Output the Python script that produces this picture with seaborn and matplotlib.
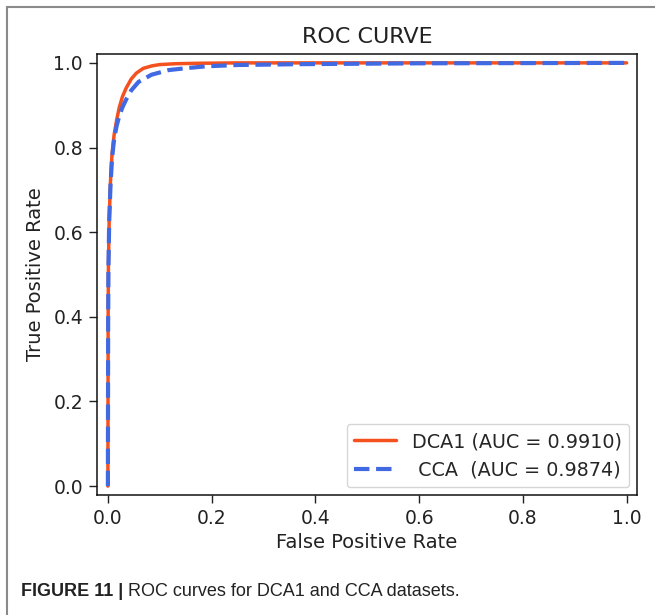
import matplotlib
matplotlib.use("Agg")
import matplotlib.pyplot as plt
from matplotlib.patches import Rectangle
import seaborn as sns
import numpy as np
import pandas as pd

# ROC points
FPR_DCA1 = [0.0, 0.0005, 0.001, 0.0025, 0.005, 0.008, 0.012, 0.017, 0.022, 0.028, 0.035,
            0.045, 0.055, 0.068, 0.085, 0.10, 0.13, 0.17, 0.25, 0.40, 1.0]
TPR_DCA1 = [0.0, 0.40, 0.52, 0.63, 0.72, 0.785, 0.83, 0.866, 0.895, 0.92, 0.94,
            0.962, 0.976, 0.987, 0.993, 0.996, 0.998, 0.999, 1.0, 1.0, 1.0]

FPR_CCA = [0.0, 0.0005, 0.001, 0.0025, 0.005, 0.008, 0.012, 0.017, 0.022, 0.028, 0.035,
           0.045, 0.059, 0.084, 0.117, 0.155, 0.19, 0.25, 0.37, 0.60, 1.0]
TPR_CCA = [0.0, 0.39, 0.51, 0.625, 0.71, 0.775, 0.82, 0.852, 0.875, 0.895, 0.913,
           0.935, 0.955, 0.972, 0.983, 0.988, 0.992, 0.995, 0.997, 0.999, 1.0]

LABELS = ["DCA1 (AUC = 0.9910)", " CCA  (AUC = 0.9874)"]
COLORS = ["#F4511E", "#4169E1"]

data = pd.concat(
    [
        pd.DataFrame({"fpr": FPR_DCA1, "tpr": TPR_DCA1, "model": LABELS[0]}),
        pd.DataFrame({"fpr": FPR_CCA, "tpr": TPR_CCA, "model": LABELS[1]}),
    ],
    ignore_index=True,
)

sns.set_style("ticks")
plt.rcParams["font.family"] = ["DejaVu Sans"]

fig = plt.figure(figsize=(6.55, 6.15), dpi=100)
ax = fig.add_axes([97 / 655, 1 - 495 / 615, 540 / 655, 441 / 615])

for (label, color), ls, lw in zip(zip(LABELS, COLORS), ["-", "--"], [2.5, 3.0]):
    sub = data[data["model"] == label]
    sns.lineplot(
        x="fpr", y="tpr", data=sub, ax=ax, color=color, linestyle=ls,
        linewidth=lw, label=label, estimator=None, sort=False,
    )

ax.set_xlim(-0.021, 1.02)
ax.set_ylim(-0.021, 1.021)
ax.set_xticks(np.arange(0, 1.01, 0.2))
ax.set_yticks(np.arange(0, 1.01, 0.2))
ax.tick_params(labelsize=13.5, length=6, width=1, pad=4, colors="#222222")
for s in ax.spines.values():
    s.set_linewidth(1.1)
    s.set_color("#111111")
ax.set_xlabel("False Positive Rate", fontsize=14, color="#222222", labelpad=4)
ax.set_ylabel("True Positive Rate", fontsize=14, color="#222222", labelpad=6)
ax.set_title("ROC CURVE", fontsize=16, color="#222222", pad=8)
ax.legend(loc="lower right", fontsize=13.8, frameon=True, handlelength=2.2, borderaxespad=0.4)

# outer frame of the figure panel
fig.patches.append(Rectangle((7 / 655, -0.02), 1.1, 1 - 7 / 615 + 0.02, transform=fig.transFigure,
                             fill=False, edgecolor="#8a8a8a", linewidth=1.5))

# caption: bold label, then the plain text right after it
cap_font = ["Liberation Sans"]
bold = fig.text(21 / 655, 1 - 592 / 615, "FIGURE 11 |", fontsize=13, fontweight="bold",
                family=cap_font, color="#222222", va="center")
fig.canvas.draw()
bb = bold.get_window_extent()
fig.text((bb.x1 + 5) / fig.bbox.width, 1 - 592 / 615, "ROC curves for DCA1 and CCA datasets.",
         fontsize=13, family=cap_font, color="#222222", va="center")

fig.savefig("out.png", dpi=100)
